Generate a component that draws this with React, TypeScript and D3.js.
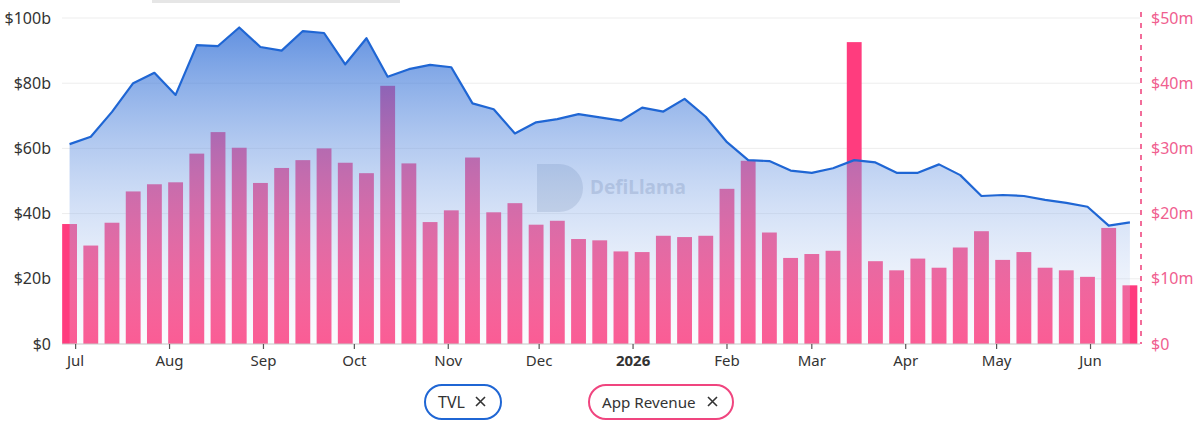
import React from 'react'
import * as d3 from 'd3'

// weekly buckets (Sundays) from late June 2025 to mid June 2026
const weeks = d3.timeWeek.range(new Date(2025, 5, 29), new Date(2026, 5, 15))

// TVL in $b
const tvl = [
  61.3, 63.6, 71.2, 80.0, 83.2, 76.4, 91.7, 91.4, 97.1, 91.1, 90.0, 96.0, 95.4,
  85.8, 93.8, 82.0, 84.3, 85.6, 84.9, 73.8, 72.0, 64.6, 68.0, 69.0, 70.5, 69.5,
  68.5, 72.5, 71.3, 75.2, 69.7, 61.9, 56.4, 56.1, 53.2, 52.5, 53.9, 56.4, 55.7,
  52.5, 52.5, 55.1, 51.8, 45.4, 45.7, 45.4, 44.2, 43.3, 42.1, 36.3, 37.3
]

// App revenue in $m
const revenue = [
  18.4, 15.1, 18.6, 23.4, 24.5, 24.8, 29.2, 32.5, 30.1, 24.7, 27.0, 28.2, 30.0,
  27.8, 26.2, 39.6, 27.7, 18.7, 20.5, 28.6, 20.2, 21.6, 18.3, 18.9, 16.1, 15.9,
  14.2, 14.1, 16.6, 16.4, 16.6, 23.8, 28.1, 17.1, 13.2, 13.8, 14.3, 46.3, 12.7,
  11.3, 13.1, 11.7, 14.8, 17.3, 12.9, 14.1, 11.7, 11.3, 10.3, 17.8, 9.0
]

const tvlTicks = [0, 20, 40, 60, 80, 100]
const revTicks = [0, 10, 20, 30, 40, 50]

const W = 1200
const H = 423
const margin = { top: 18, right: 60, bottom: 79, left: 62 }

const FONT = '"Noto Sans", "Open Sans", sans-serif'
const BLUE = '#1f66d4'
const PINK = '#ff3c7e'

const App = () => {
  const left = margin.left
  const right = W - margin.right
  const bottom = H - margin.bottom

  const x = d3.scaleTime()
    .domain([new Date(2025, 5, 26, 12), new Date(2026, 5, 17, 8)])
    .range([left, right])

  const yTvl = d3.scaleLinear().domain([0, 100]).range([bottom, margin.top])
  const yRev = d3.scaleLinear().domain([0, 50]).range([bottom, margin.top])

  const step = x(weeks[1]) - x(weeks[0])
  const barW = step * 0.7

  const area = d3.area<number>()
    .x((d, i) => x(weeks[i]))
    .y0(yTvl(0))
    .y1(d => yTvl(d))

  const line = d3.line<number>()
    .x((d, i) => x(weeks[i]))
    .y(d => yTvl(d))

  const monthTicks = d3.timeMonth.range(new Date(2025, 6, 1), new Date(2026, 5, 2))

  return (
    <svg width={W} height={H} style={{ position: 'absolute', left: 0, top: 0, display: 'block', background: '#fff' }}>
      <defs>
        <linearGradient id="tvlFill" gradientUnits="userSpaceOnUse" x1="0" x2="0" y1={yTvl(100)} y2={yTvl(0)}>
          <stop offset="0%" stopColor="#1a5fd2" stopOpacity={0.72} />
          <stop offset="100%" stopColor="#e8effb" stopOpacity={0.18} />
        </linearGradient>
      </defs>

      {/* faint strip at the very top */}
      <rect x={152} y={0} width={248} height={3} fill="#e6e6e6" />

      {/* grid */}
      {tvlTicks.slice(1).map(t => (
        <line key={t} x1={left} x2={right} y1={yTvl(t)} y2={yTvl(t)} stroke="#ededed" strokeWidth={1} />
      ))}

      {/* watermark */}
      <g opacity={0.3}>
        <path d="M537,164 h22 a24,24 0 0 1 0,48 h-22 z" fill="#8a96aa" />
        <text x={590} y={194} fontFamily={FONT} fontWeight={700} fontSize={19} fill="#6c7890">DefiLlama</text>
      </g>

      {/* revenue bars */}
      {revenue.map((v, i) => (
        <rect
          key={i}
          x={x(weeks[i]) - barW / 2}
          y={yRev(v)}
          width={barW}
          height={yRev(0) - yRev(v)}
          fill={PINK}
        />
      ))}

      {/* TVL area + line */}
      <path d={area(tvl) || ''} fill="url(#tvlFill)" />
      <path d={line(tvl) || ''} fill="none" stroke={BLUE} strokeWidth={2.2} strokeLinejoin="round" />

      {/* x axis */}
      <line x1={left} x2={right} y1={bottom} y2={bottom} stroke="#c8c8c8" strokeWidth={1.2} />
      {monthTicks.map(d => (
        <g key={d.getTime()} transform={`translate(${x(d)},${bottom})`}>
          <line y1={0} y2={5} stroke="#555" strokeWidth={1.2} />
          <text
            y={22}
            textAnchor="middle"
            fontFamily={FONT}
            fontSize={15}
            fontWeight={d.getMonth() === 0 ? 700 : 400}
            fill="#333"
          >
            {d.getMonth() === 0 ? d3.timeFormat('%Y')(d) : d3.timeFormat('%b')(d)}
          </text>
        </g>
      ))}

      {/* left axis */}
      {tvlTicks.map(t => (
        <text key={t} x={51} y={yTvl(t) + 5.5} textAnchor="end" fontFamily={FONT} fontSize={16} fill="#333">
          {t === 0 ? '$0' : `$${t}b`}
        </text>
      ))}

      {/* right axis */}
      <line x1={right + 1} x2={right + 1} y1={margin.top - 6} y2={bottom} stroke="#f26d9a" strokeWidth={2} strokeDasharray="5,6" />
      {revTicks.map(t => (
        <text key={t} x={1151} y={yRev(t) + 5.5} textAnchor="start" fontFamily={FONT} fontSize={16} fill="#f0608f">
          {t === 0 ? '$0' : `$${t}m`}
        </text>
      ))}

      {/* legend */}
      <g>
        <rect x={425} y={385} width={76} height={34} rx={17} fill="#fff" stroke={BLUE} strokeWidth={2} />
        <text x={438} y={407.5} fontFamily={FONT} fontSize={16} fill="#333">TVL</text>
        <path d="M476,397 l9,9 M485,397 l-9,9" stroke="#333" strokeWidth={1.6} />

        <rect x={589} y={385} width={144} height={34} rx={17} fill="#fff" stroke="#f0457f" strokeWidth={2} />
        <text x={602} y={407.5} fontFamily={FONT} fontSize={15.2} fill="#333">App Revenue</text>
        <path d="M708,397 l9,9 M717,397 l-9,9" stroke="#333" strokeWidth={1.6} />
      </g>
    </svg>
  )
}

export default App
